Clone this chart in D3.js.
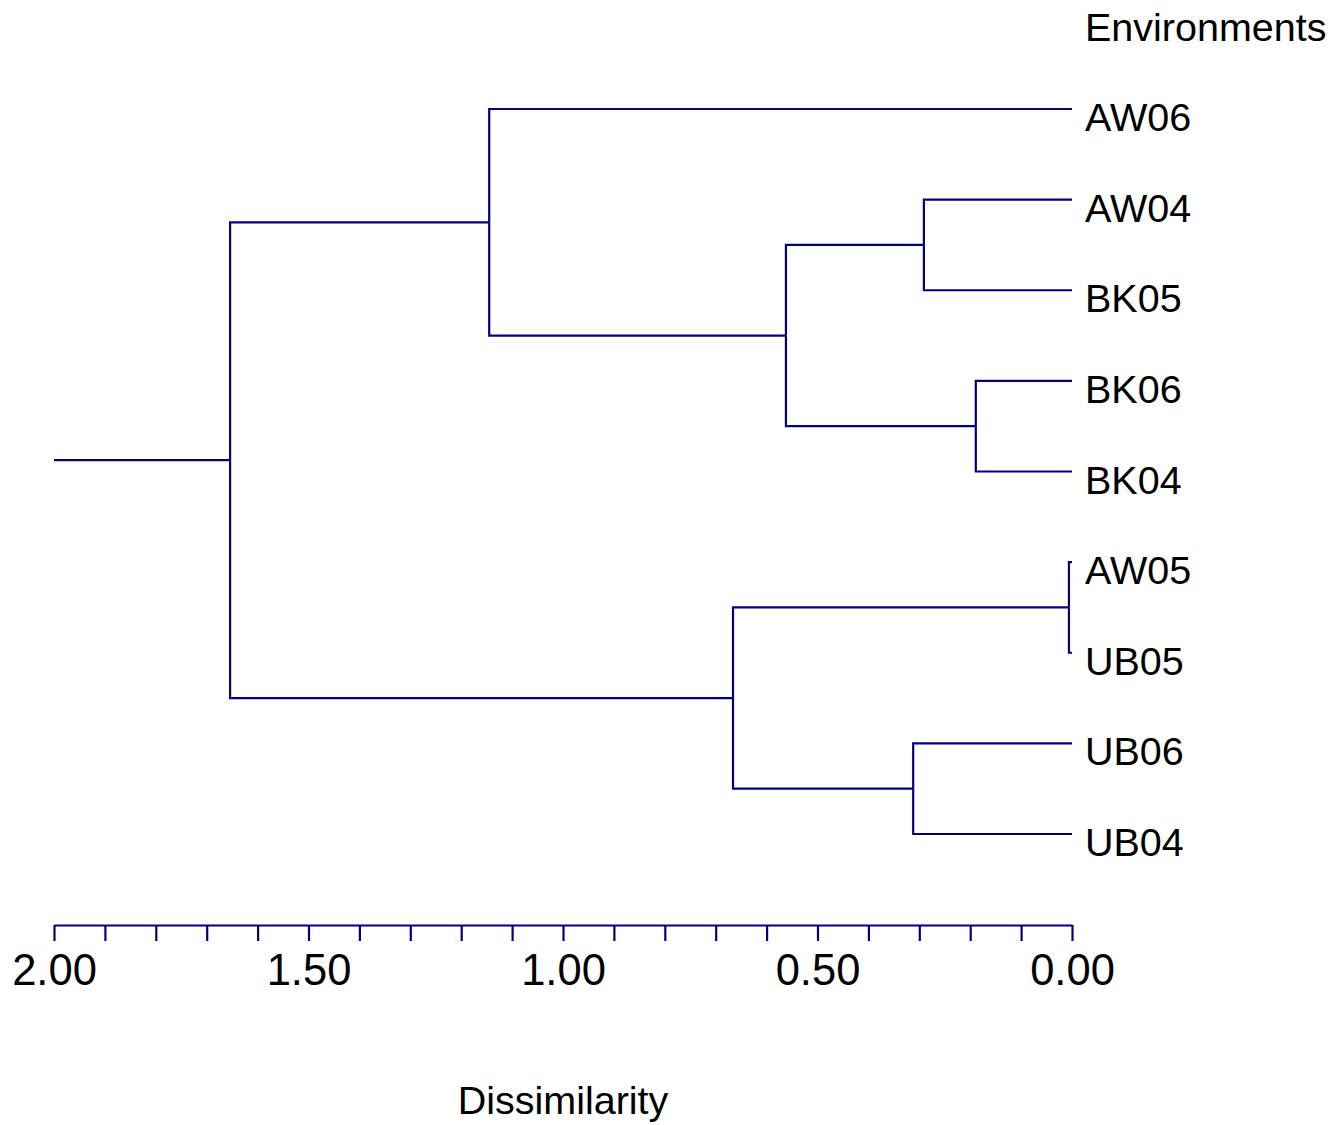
<!DOCTYPE html>
<html>
<head>
<meta charset="utf-8">
<script src="https://cdn.jsdelivr.net/npm/d3@7"></script>
<style>
  html, body { margin: 0; padding: 0; background: #fff; }
  svg { display: block; font-family: "Liberation Sans", Arial, Helvetica, sans-serif; }
</style>
</head>
<body>
<svg id="chart" width="1342" height="1125"></svg>
<script>
// Leaf order, top to bottom
const leaves = ["AW06", "AW04", "BK05", "BK06", "BK04", "AW05", "UB05", "UB06", "UB04"];

// Agglomeration steps (hclust style: negative = leaf index, positive = earlier step)
const mergeA = [-6, -4, -2, -8, 3, 1, -1, 7];
const mergeB = [-7, -5, -3, -9, 2, 4, 5, 6];
const mergeHeight = [0.006, 0.189, 0.291, 0.312, 0.562, 0.666, 1.145, 1.654];

// Axis ticks
const minorTicks = d3.range(0, 21).map(i => i / 10);
const labelTicks = [2.0, 1.5, 1.0, 0.5, 0.0];
const rootTail = 2.0;

const svg = d3.select("#chart");
const color = "#000080";

const x = d3.scaleLinear().domain([2, 0]).range([54, 1072]);
const y = d3.scalePoint().domain(leaves).range([109, 834]);

// Build the tree from the merge steps
const nodes = [];
function getNode(ref) {
  if (ref < 0) {
    const name = leaves[-ref - 1];
    return { name, h: 0, y: y(name), leaf: true };
  }
  return nodes[ref - 1];
}
mergeA.forEach((a, i) => {
  const left = getNode(a), right = getNode(mergeB[i]);
  nodes.push({ h: mergeHeight[i], y: (left.y + right.y) / 2, children: [left, right] });
});
const root = d3.hierarchy(nodes[nodes.length - 1]);

const g = svg.append("g")
  .attr("fill", "none")
  .attr("stroke", color)
  .attr("stroke-width", 2.2);

// Elbow links: vertical at parent height, horizontal out to the child
root.links().forEach(l => {
  const p = l.source.data, c = l.target.data;
  g.append("path")
    .attr("d", `M${x(p.h)},${p.y}V${c.y}H${x(c.h)}`);
});

// Root tail
g.append("path")
  .attr("d", `M${x(rootTail)},${root.data.y}H${x(root.data.h)}`);

// Leaf labels
svg.append("g").selectAll("text")
  .data(root.leaves())
  .join("text")
  .attr("x", 1085)
  .attr("y", d => d.data.y + 22)
  .attr("font-size", 39.5)
  .attr("fill", "#000")
  .text(d => d.data.name);

svg.append("text")
  .attr("x", 1085).attr("y", 41)
  .attr("font-size", 39.5)
  .attr("fill", "#000")
  .text("Environments");

// Axis
const axis = d3.axisBottom(x)
  .tickValues(minorTicks)
  .tickSize(16)
  .tickSizeOuter(0)
  .tickPadding(13)
  .tickFormat(d => labelTicks.some(t => Math.abs(t - d) < 1e-9) ? d3.format(".2f")(d) : "");

const ax = svg.append("g")
  .attr("transform", "translate(0,925)")
  .call(axis);
ax.select(".domain").attr("stroke", color).attr("stroke-width", 2.2);
ax.selectAll(".tick line").attr("stroke", color).attr("stroke-width", 2.2);
ax.selectAll(".tick text")
  .attr("fill", "#000")
  .attr("font-size", 43.5)
  .attr("font-family", "'Liberation Sans', Arial, sans-serif");

svg.append("text")
  .attr("x", x(1.0)).attr("y", 1114)
  .attr("text-anchor", "middle")
  .attr("font-size", 39.5)
  .attr("fill", "#000")
  .text("Dissimilarity");
</script>
</body>
</html>
